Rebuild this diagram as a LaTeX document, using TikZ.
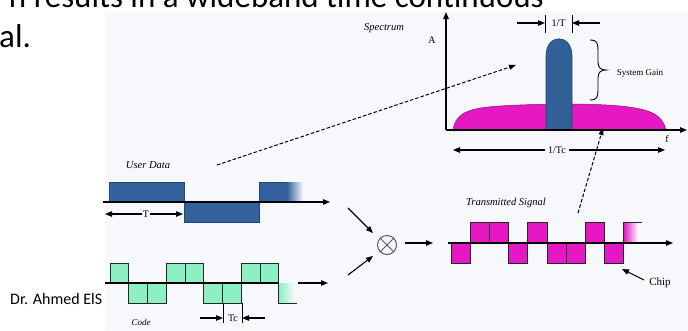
\documentclass[tikz,border=0pt]{standalone}
\usepackage{fontspec}
\setmainfont{Liberation Serif}
\newfontfamily\slidefont{Carlito}
\usetikzlibrary{arrows.meta}
\definecolor{bgc}{RGB}{247,248,252}
\definecolor{dblue}{RGB}{52,98,158}
\definecolor{sblue}{RGB}{48,96,150}
\definecolor{spink}{RGB}{230,24,196}
\definecolor{codegreen}{RGB}{140,240,195}
\tikzset{
  tip/.tip={Triangle[length=7pt,width=5.5pt]},
  arr/.style={-tip, line width=1.1pt},
  darr/.style={tip-tip, line width=1.1pt},
  dasharr/.style={-{Triangle[length=7pt,width=5pt]}, line width=1pt, dash pattern=on 3.5pt off 2pt},
  axisline/.style={line width=1.1pt},
  lbl/.style={font=\fontsize{10}{10}\selectfont, inner sep=1pt},
  ilbl/.style={font=\itshape\fontsize{10.5}{10.5}\selectfont, inner sep=0pt},
  chipg/.style={fill=codegreen, draw=black!85, line width=0.9pt},
  chipp/.style={fill=spink, draw=black!85, line width=0.9pt},
  blockb/.style={fill=dblue, draw=dblue!70!black, line width=0.6pt},
  tick/.style={line width=0.9pt},
}
\begin{document}
\begin{tikzpicture}[x=1pt,y=-1pt]
\useasboundingbox (0,0) rectangle (688,330);
\fill[white] (0,0) rectangle (688,330);
% slide text
\node[anchor=base east, inner sep=0pt, font=\slidefont\fontsize{33}{33}\selectfont] (line1) at (544,7) {n results in a wideband time continuous};
\node[anchor=base west, inner sep=0pt, font=\slidefont\fontsize{33}{33}\selectfont] (line2) at (-1,47) {al.};
\node[anchor=base west, inner sep=0pt, font=\slidefont\fontsize{16}{16}\selectfont] (foot) at (10,304) {Dr. Ahmed ElS};
% picture background
\fill[bgc] (105,12) rectangle (688,330);

% ---------- Spectrum ----------
\node[ilbl] (spec) at (384,28) {Spectrum};
\node[lbl] (alab) at (432,40) {A};
\fill[spink, draw=spink!60!black, line width=0.5pt] (453,130) .. controls (456,112) and (470,108) .. (500,106)
  .. controls (530,104) and (590,103) .. (620,106)
  .. controls (650,109) and (662,114) .. (666,130) -- cycle;
\fill[sblue, draw=sblue!70!black, line width=0.6pt] (546,130) -- (546,56) .. controls (546,33) and (572,33) .. (572,56) -- (572,130) -- cycle;
\coordinate (ybot) at (446,130);
\coordinate (ytop) at (446,12);
\coordinate (xend) at (687,130);
\draw[arr] (ybot) -- (ytop);
\draw[arr] (ybot) -- (xend);
\node[lbl] (flab) at (667,139) {f};
% 1/T
\draw[tick] (545,15) -- (545,33);
\draw[tick] (572,15) -- (572,33);
\node[lbl] (onet) at (558.5,23) {1/T};
\coordinate (ta) at (517,23); \coordinate (tb) at (545,23);
\coordinate (tc) at (600,23); \coordinate (td) at (572,23);
\draw[arr] (ta) -- (tb);
\draw[arr] (tc) -- (td);
% brace
\draw[line width=0.9pt] (590,40) .. controls (597,40) and (598,43) .. (598,50) -- (598,62)
  .. controls (598,68) and (601,70) .. (606,70) .. controls (601,70) and (598,72) .. (598,78)
  -- (598,90) .. controls (598,97) and (597,100) .. (590,100);
\node[font=\fontsize{9}{9}\selectfont, inner sep=0pt] (gain) at (640,73) {System Gain};
% 1/Tc
\node[lbl, fill=bgc, inner sep=3pt] (onetc) at (557,150) {1/Tc};
\coordinate (tcl) at (453,150); \coordinate (tcr) at (665,150);
\draw[arr] (onetc.west) -- (tcl);
\draw[arr] (onetc.east) -- (tcr);

% ---------- User data ----------
\node[ilbl] (udata) at (148,165) {User Data};
\fill[blockb] (109,182) rectangle (184,202);
\fill[blockb] (184,202) rectangle (259,222);
\fill[dblue] (259,182) rectangle (287.5,202);
\shade[left color=dblue, right color=bgc] (287,182) rectangle (303,202);
\draw[dblue!70!black, line width=0.6pt] (259,202) -- (259,182) -- (287,182);
\coordinate (d0) at (103,202); \coordinate (d1) at (330,202);
\draw[arr] (d0) -- (d1);
\node[lbl] (tlab) at (146,214) {T};
\coordinate (tl) at (105,214); \coordinate (tr) at (183,214);
\draw[arr] (tlab.west) -- (tl);
\draw[arr] (tlab.east) -- (tr);
% dashed arrow to spectrum
\coordinate (ds0) at (217,165); \coordinate (ds1) at (516,65);
\draw[dasharr] (ds0) -- (ds1);

% ---------- Code ----------
\foreach \i/\y in {0/263,1/283,2/283,3/263,4/263,5/283,6/283,7/263,8/263}
  \draw[chipg] ({110+\i*18.75},\y) rectangle ({128.75+\i*18.75},\y+20);
\shade[left color=codegreen, right color=bgc] (278.75,283) rectangle (295,303);
\draw[line width=0.9pt, black!85] (278.75,283) -- (278.75,303) -- (297,303);
\draw[axisline] (105,283) -- (278.75,283);
\coordinate (c0) at (298,283); \coordinate (c1) at (328,283);
\draw[arr] (c0) -- (c1);
\draw[tick] (223,303) -- (223,323);
\draw[tick] (242,303) -- (242,323);
\node[lbl] (tclab) at (233,318) {Tc};
\coordinate (ca) at (200,318); \coordinate (cb) at (223,318);
\coordinate (cc) at (265,318); \coordinate (cd) at (242,318);
\draw[arr] (ca) -- (cb);
\draw[arr] (cc) -- (cd);
\node[font=\itshape\fontsize{9}{9}\selectfont, inner sep=0pt] (code) at (141,322) {Code};

% ---------- Multiplier ----------
\node[circle, draw=black!65, line width=1pt, minimum size=19pt, inner sep=0pt] (mult) at (387,245) {};
\draw[black!65, line width=1pt] (mult.north west) -- (mult.south east);
\draw[black!65, line width=1pt] (mult.north east) -- (mult.south west);
\coordinate (m1) at (348,208); \coordinate (m1e) at (373,233);
\coordinate (m2) at (348,275); \coordinate (m2e) at (373,256);
\coordinate (mo) at (433,243);
\coordinate (mos) at (405,243);
\draw[arr] (m1) -- (m1e);
\draw[arr] (m2) -- (m2e);
\draw[arr] (mos) -- (mo);

% ---------- Transmitted signal ----------
\node[ilbl] (tsig) at (506,203) {Transmitted Signal};
\foreach \i/\y in {0/243,1/222.5,2/222.5,3/243,4/222.5,5/243,6/243,7/222.5,8/243}
  \draw[chipp] ({451+\i*19.2},\y) rectangle ({470.2+\i*19.2},\y+20.5);
\shade[left color=spink, right color=bgc] (623.8,222.5) rectangle (638,243);
\draw[line width=0.9pt, black!85] (623.8,243) -- (623.8,222.5) -- (642,222.5);
\coordinate (s0) at (448,243); \coordinate (s1) at (673,243);
\draw[arr] (s0) -- (s1);
% chip label
\node[font=\fontsize{11}{11}\selectfont, inner sep=0pt] (chip) at (660,283) {Chip};
\coordinate (cps) at (644,280);
\coordinate (cp) at (622,269);
\draw[arr] (cps) -- (cp);
% dashed arrow to spectrum
\coordinate (dt0) at (578,213); \coordinate (dt1) at (603,128);
\draw[dasharr] (dt0) -- (dt1);
\end{tikzpicture}
\end{document}
